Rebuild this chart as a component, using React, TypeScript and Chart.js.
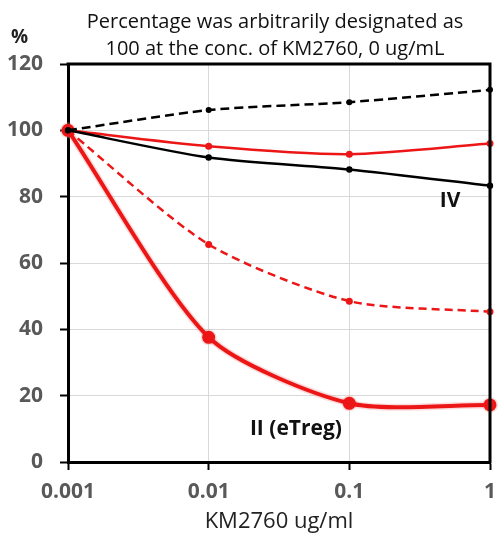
import React, { useEffect, useRef } from "react";
import { Chart, registerables } from "chart.js";

Chart.register(...registerables);

const concentrations = [0.001, 0.01, 0.1, 1];
const xTickValues = [0.001, 0.01, 0.1, 1];
const yTickValues = [0, 20, 40, 60, 80, 100, 120];
const blackDashed = [100, 106.1, 108.5, 112.2];
const redSolid = [100, 95.2, 92.8, 96.0];
const blackSolid = [100, 91.8, 88.2, 83.3];
const redDashed = [100, 65.6, 48.5, 45.3];
const eTreg = [100, 37.6, 17.7, 17.2];

const titleLines = [
  "Percentage was arbitrarily designated as",
  "100 at the conc. of KM2760, 0 ug/mL",
];
const yUnit = "%";
const xTitle = "KM2760 ug/ml";
const annotations = [
  { text: "IV", x: 0.52, y: 78.7 },
  { text: "II (eTreg)", x: 0.0417, y: 10 },
];

const RED = "rgb(236,22,22)";
const FONT = "'Open Sans', 'DejaVu Sans', sans-serif";

const pts = (vals: number[]) => vals.map((v, i) => ({ x: concentrations[i], y: v }));

const textPlugin = {
  id: "texts",
  afterDraw(chart: any) {
    const { ctx, chartArea, scales } = chart;
    ctx.save();
    ctx.strokeStyle = "#000";
    ctx.lineWidth = 3;
    ctx.beginPath();
    ctx.moveTo(chartArea.left - 1.5, chartArea.top);
    ctx.lineTo(chartArea.right, chartArea.top);
    ctx.lineTo(chartArea.right, chartArea.bottom + 1.5);
    ctx.stroke();
    ctx.fillStyle = "#111";
    ctx.font = `20px ${FONT}`;
    ctx.textAlign = "center";
    ctx.textBaseline = "alphabetic";
    ctx.fillText(titleLines[0], 275, 28);
    ctx.fillText(titleLines[1], 275, 55);
    ctx.font = `bold 19px ${FONT}`;
    ctx.textAlign = "left";
    ctx.fillStyle = "#222";
    ctx.fillText(yUnit, 11, 43);
    ctx.font = `bold 21px ${FONT}`;
    ctx.textAlign = "center";
    ctx.textBaseline = "middle";
    ctx.fillStyle = "#111";
    for (const a of annotations) {
      ctx.fillText(a.text, scales.x.getPixelForValue(a.x), scales.y.getPixelForValue(a.y));
    }
    ctx.restore();
  },
};

export default function App() {
  const ref = useRef<HTMLCanvasElement>(null);
  useEffect(() => {
    if (!ref.current) return;
    const common = { clip: false as any, tension: 0.25, fill: false };
    const chart = new Chart(ref.current, {
      type: "line",
      data: {
        datasets: [
          {
            ...common,
            label: "black dashed",
            data: pts(blackDashed),
            borderColor: "#000",
            backgroundColor: "#000",
            borderWidth: 2.5,
            borderDash: [9, 5],
            pointRadius: 3,
            pointBorderWidth: 0,
            order: 0,
          },
          {
            ...common,
            label: "black solid",
            data: pts(blackSolid),
            borderColor: "#000",
            backgroundColor: "#000",
            borderWidth: 2.5,
            pointRadius: 3.2,
            pointBorderWidth: 0,
            order: 0,
          },
          {
            ...common,
            label: "red solid",
            data: pts(redSolid),
            borderColor: RED,
            backgroundColor: RED,
            borderWidth: 2.5,
            pointRadius: 3.5,
            pointBorderWidth: 0,
            order: 1,
          },
          {
            ...common,
            label: "red dashed",
            data: pts(redDashed),
            borderColor: RED,
            backgroundColor: RED,
            borderWidth: 2.5,
            borderDash: [8, 5],
            pointRadius: 3.5,
            pointBorderWidth: 0,
            order: 1,
          },
          {
            ...common,
            label: "II (eTreg)",
            data: pts(eTreg),
            borderColor: RED,
            backgroundColor: RED,
            borderWidth: 4,
            pointRadius: 6.5,
            pointBorderWidth: 0,
            order: 2,
          },
          {
            ...common,
            label: "halo",
            data: pts(eTreg),
            borderColor: "rgba(240,140,140,0.3)",
            backgroundColor: "rgba(240,140,140,0.3)",
            borderWidth: 7,
            pointRadius: 8,
            pointBorderWidth: 0,
            order: 3,
          },
        ],
      },
      options: {
        responsive: false,
        animation: false,
        layout: { padding: { top: 64, left: 0, right: 0, bottom: 0 } },
        plugins: { legend: { display: false }, tooltip: { enabled: false }, title: { display: false } },
        scales: {
          x: {
            type: "logarithmic",
            min: 0.001,
            max: 1,
            afterBuildTicks: (s: any) => {
              s.ticks = xTickValues.map((v) => ({ value: v }));
            },
            afterFit: (s: any) => {
              s.height = 73;
              s.paddingRight = 6;
              s.paddingLeft = 0;
            },
            ticks: {
              callback: (v: any) => String(v),
              color: "#595959",
              font: { family: FONT, size: 21, weight: "bold" },
              padding: 9,
              maxRotation: 0,
              autoSkip: false,
            },
            grid: { color: "#d9d9d9", lineWidth: 1, tickColor: "#000", tickWidth: 2, tickLength: 8 },
            border: { color: "#000", width: 3 },
            title: {
              display: true,
              text: xTitle,
              color: "#222",
              font: { family: FONT, size: 22 },
              padding: { top: 0, bottom: 0 },
            },
          },
          y: {
            min: 0,
            max: 120,
            afterBuildTicks: (s: any) => {
              s.ticks = yTickValues.map((v) => ({ value: v }));
            },
            afterFit: (s: any) => {
              s.width = 68;
            },
            ticks: {
              color: "#595959",
              font: { family: FONT, size: 21, weight: "bold" },
              padding: 17,
            },
            grid: { color: "#d9d9d9", lineWidth: 1, tickColor: "#000", tickWidth: 2, tickLength: 8 },
            border: { color: "#000", width: 3 },
          },
        },
      },
      plugins: [textPlugin],
    } as any);
    return () => chart.destroy();
  }, []);
  return (
    <div style={{ position: "fixed", left: 0, top: 0, width: 498, height: 535, background: "#fff" }}>
      <canvas ref={ref} width={498} height={535} />
    </div>
  );
}
